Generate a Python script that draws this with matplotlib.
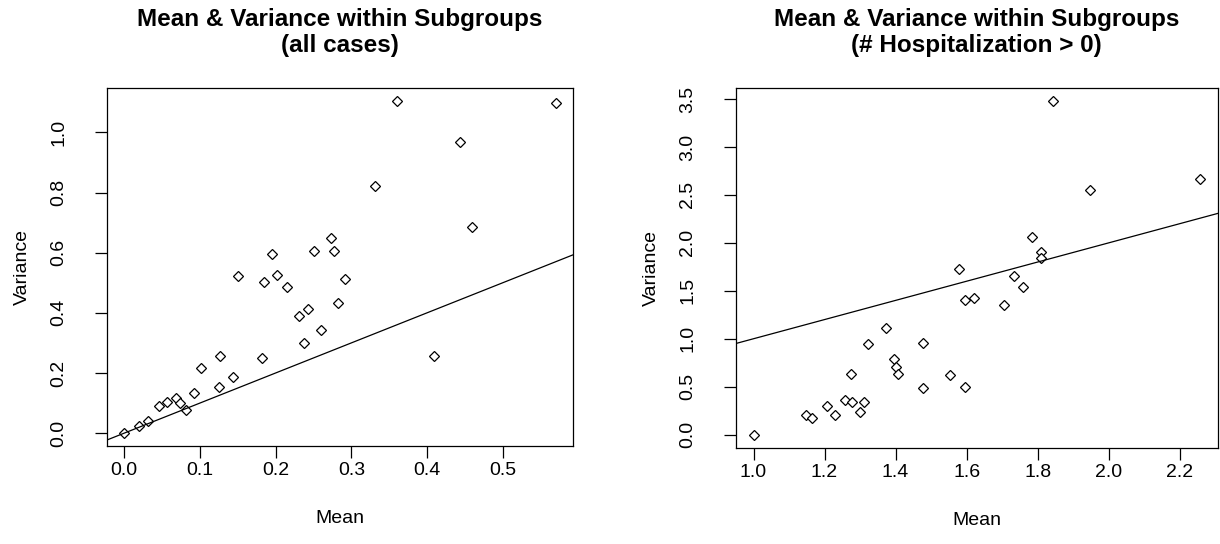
import matplotlib
matplotlib.use("Agg")
import matplotlib.pyplot as plt

plt.rcParams['font.family'] = ['Liberation Sans', 'DejaVu Sans']

# all cases
mean_all = [0.000, 0.020, 0.031, 0.046, 0.056, 0.068, 0.073, 0.081, 0.092, 0.102,
            0.125, 0.127, 0.144, 0.150, 0.182, 0.184, 0.195, 0.202, 0.215, 0.231,
            0.237, 0.243, 0.251, 0.260, 0.273, 0.277, 0.283, 0.292, 0.331, 0.360,
            0.409, 0.444, 0.459, 0.570]
var_all = [0.001, 0.023, 0.041, 0.091, 0.104, 0.118, 0.099, 0.076, 0.135, 0.215,
           0.153, 0.255, 0.187, 0.522, 0.250, 0.503, 0.596, 0.525, 0.485, 0.388,
           0.299, 0.414, 0.605, 0.343, 0.650, 0.605, 0.432, 0.512, 0.823, 1.103,
           0.255, 0.969, 0.684, 1.099]

# # Hospitalization > 0
mean_hosp = [1.000, 1.147, 1.166, 1.206, 1.229, 1.257, 1.275, 1.276, 1.300, 1.312,
             1.321, 1.372, 1.396, 1.401, 1.406, 1.477, 1.477, 1.552, 1.578, 1.594,
             1.595, 1.620, 1.704, 1.733, 1.759, 1.785, 1.810, 1.810, 1.844, 1.948,
             2.256]
var_hosp = [0.000, 0.202, 0.174, 0.302, 0.202, 0.362, 0.636, 0.344, 0.233, 0.344,
            0.946, 1.113, 0.793, 0.709, 0.636, 0.959, 0.484, 0.622, 1.728, 1.408,
            0.500, 1.422, 1.349, 1.658, 1.537, 2.065, 1.902, 1.840, 3.477, 2.555,
            2.667]

titles = ["Mean & Variance within Subgroups\n(all cases)",
          "Mean & Variance within Subgroups\n(# Hospitalization > 0)"]
xticks_all = [0.0, 0.1, 0.2, 0.3, 0.4, 0.5]
yticks_all = [0.0, 0.2, 0.4, 0.6, 0.8, 1.0]
xticks_hosp = [1.0, 1.2, 1.4, 1.6, 1.8, 2.0, 2.2]
yticks_hosp = [0.0, 0.5, 1.0, 1.5, 2.0, 2.5, 3.0, 3.5]


def r_range(v):
    # R style axis range: data range plus 4% each side
    lo, hi = min(v), max(v)
    d = (hi - lo) * 0.04
    return lo - d, hi + d


fig = plt.figure(figsize=(12.2, 5.44), dpi=100)
ax1 = fig.add_axes([0.0877, 0.180, 0.382, 0.658])
ax2 = fig.add_axes([0.603, 0.1765, 0.395, 0.662])

panels = [(ax1, mean_all, var_all, xticks_all, yticks_all, titles[0]),
          (ax2, mean_hosp, var_hosp, xticks_hosp, yticks_hosp, titles[1])]

for ax, x, y, xt, yt, t in panels:
    ax.plot(x, y, linestyle='none', marker='D', markersize=4.8,
            markerfacecolor='white', markeredgecolor='black', markeredgewidth=0.9)
    ax.set_xlim(r_range(x))
    ax.set_ylim(r_range(y))
    ax.set_autoscale_on(False)
    ax.axline((0, 0), slope=1, color='black', linewidth=0.9)
    ax.set_xticks(xt)
    ax.set_yticks(yt)
    ax.set_xticklabels([f"{v:.1f}" for v in xt])
    ax.set_yticklabels([f"{v:.1f}" for v in yt], rotation=90, va='center')
    ax.tick_params(length=8.5, width=0.9, labelsize=14, colors='black')
    ax.tick_params(axis='x', pad=3)
    ax.tick_params(axis='y', pad=20)
    for s in ax.spines.values():
        s.set_linewidth(0.9)
    ax.set_xlabel("Mean", fontsize=14, labelpad=22)
    ax.set_ylabel("Variance", fontsize=14, labelpad=14)
    ax.set_title(t, fontsize=17.5, fontweight='bold', pad=26, linespacing=1.15)

fig.savefig("out.png", dpi=100)
